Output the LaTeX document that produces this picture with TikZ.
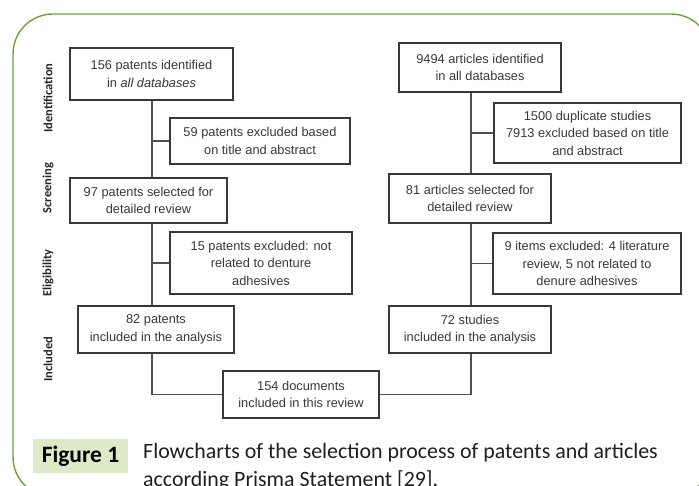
\documentclass[tikz,border=0pt]{standalone}
\usepackage{fontspec}
\setmainfont{Liberation Sans}
\newfontfamily\capfont{Carlito}
\definecolor{frameg}{HTML}{6FA23F}
\definecolor{figbg}{HTML}{DCEAC8}
\definecolor{ink}{HTML}{383838}
\definecolor{wire}{HTML}{505050}
\begin{document}
\begin{tikzpicture}[x=1pt,y=-1pt,
  boxs/.style={draw=ink,line width=1.1pt,rectangle,inner sep=0pt,align=center,
    text=ink,font=\fontsize{12.8}{17.5}\selectfont},
  wires/.style={draw=wire,line width=1.1pt},
  side/.style={rotate=90,font=\capfont\bfseries\fontsize{12.5}{14}\selectfont,text=black!85}]
\useasboundingbox (0,0) rectangle (699,486);
\begin{scope}
\clip (0,0) rectangle (699,486);
\draw[frameg,line width=1.4pt,rounded corners=40pt] (13,14) rectangle (711,497);
% side labels
\node[side] (lid) at (48,98) {Identification};
\node[side] (lsc) at (48,188) {Screening};
\node[side] (lel) at (48,273) {Eligibility};
\node[side] (lin) at (48,359) {Included};
% left column
\node[boxs,minimum width=163pt,minimum height=52pt] (A) at (151.5,74) {156 patents identified\\in \textit{all databases}};
\node[boxs,minimum width=180pt,minimum height=46pt] (B) at (260,141) {59 patents excluded based\\on title and abstract};
\node[boxs,minimum width=157pt,minimum height=45pt] (C) at (148.5,200.5) {97 patents selected for\\detailed review};
\node[boxs,minimum width=182pt,minimum height=62pt] (D) at (261,263) {15 patents excluded: not\\related to denture\\adhesives};
\node[boxs,minimum width=156pt,minimum height=47pt] (E) at (156,329.5) {82 patents\\included in the analysis};
\node[boxs,minimum width=156pt,minimum height=47pt] (F) at (301,394.5) {154 documents\\included in this review};
% right column
\node[boxs,minimum width=162pt,minimum height=49pt] (R1) at (480,67.5) {9494 articles identified\\in all databases};
\node[boxs,minimum width=187pt,minimum height=60pt] (R2) at (587.5,133) {1500 duplicate studies\\7913 excluded based on title\\and abstract};
\node[boxs,minimum width=162pt,minimum height=49pt] (R3) at (470,198.5) {81 articles selected for\\detailed review};
\node[boxs,minimum width=188pt,minimum height=61pt] (R4) at (587,263.5) {9 items excluded: 4 literature\\review, 5 not related to\\denure adhesives};
\node[boxs,minimum width=162pt,minimum height=47pt] (R5) at (470,329.5) {72 studies\\included in the analysis};
\coordinate (lx) at (152,0);
\coordinate (rx) at (471,0);
% left connectors
\draw[wires] (A.south -| lx) -- (C.north -| lx);
\draw[wires] (lx |- B.west) -- (B.west);
\draw[wires] (C.south -| lx) -- (E.north -| lx);
\draw[wires] (lx |- D.west) -- (D.west);
\draw[wires] (E.south -| lx) -- (lx |- F.west) -- (F.west);
% right connectors
\draw[wires] (R1.south -| rx) -- (R3.north -| rx);
\draw[wires] (rx |- R2.west) -- (R2.west);
\draw[wires] (R3.south -| rx) -- (R5.north -| rx);
\draw[wires] (rx |- R4.west) -- (R4.west);
\draw[wires] (F.east) -- (rx |- F.east) -- (R5.south -| rx);
% caption
\node[fill=figbg,minimum width=95pt,minimum height=34pt,inner sep=0pt,
  font=\capfont\bfseries\fontsize{23.5}{26}\selectfont] (fig) at (80.5,456) {Figure 1};
\node[anchor=base west,inner sep=0pt,align=left,text=black!88,
  font=\capfont\fontsize{21.9}{28}\selectfont] (cap) at (143,486)
  {Flowcharts of the selection process of patents and articles\\according Prisma Statement [29].};
\end{scope}
\end{tikzpicture}
\end{document}
